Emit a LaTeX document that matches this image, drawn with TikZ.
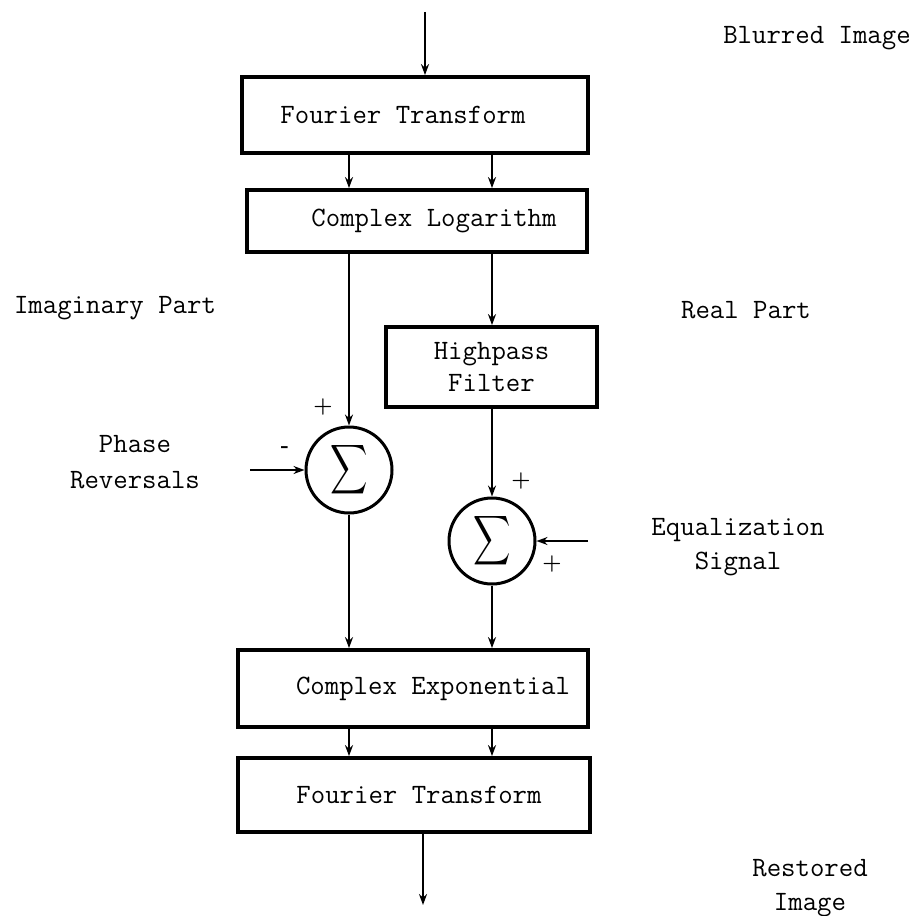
\documentclass[tikz,border=0pt]{standalone}
\usepackage{exscale}
\usepackage{graphicx}
\usetikzlibrary{arrows.meta,shapes.geometric}
\begin{document}
\begin{tikzpicture}[x=0.5pt,y=-0.5pt,
  every node/.style={font=\ttfamily\fontsize{14}{17}\selectfont},
  blockbox/.style={draw,line width=1.9pt,inner sep=0pt,minimum width=#1},
  sumnode/.style={draw,circle,line width=1.5pt,minimum size=43pt,inner sep=0pt,font=\fontsize{17}{20}\selectfont},
  arr/.style={line width=1.3pt,-{Stealth[length=5.5pt,width=4pt]}},
  lbl/.style={align=center},
  sgn/.style={font=\normalfont\bfseries\fontsize{11}{11}\selectfont,inner sep=0pt}]
\useasboundingbox (0,0) rectangle (919,915);
\fill[white] (0,0) rectangle (919,915);
% columns
\coordinate (L) at (349,0);
\coordinate (R) at (492,0);
\coordinate (in) at (425,12);
\coordinate (out) at (423,905);
\coordinate (ph) at (250,470);
\coordinate (eq) at (588,541);
% blocks
\node[blockbox=173pt,minimum height=38pt] (FT1) at (415,115) {Fourier Transform\hspace*{12pt}};
\node[blockbox=170pt,minimum height=31pt] (CL) at (417,221) {\hspace*{17pt}Complex Logarithm};
\node[blockbox=105.5pt,minimum height=40pt,align=center] (HP) at (491.5,367) {Highpass\\[-1pt]Filter};
\node[sumnode] (S1) at (349,470) {\scalebox{0.75}[1]{$\displaystyle\sum$}};
\node[sumnode] (S2) at (492,541) {\scalebox{0.75}[1]{$\displaystyle\sum$}};
\node[blockbox=175pt,minimum height=38.5pt] (CE) at (413,688.5) {\hspace*{20pt}Complex Exponential};
\node[blockbox=176pt,minimum height=37pt] (FT2) at (414,795) {\hspace*{5pt}Fourier Transform};
% connectors
\draw[arr] (in) -- (in |- FT1.north);
\draw[arr] (FT1.south -| L) -- (CL.north -| L);
\draw[arr] (FT1.south -| R) -- (CL.north -| R);
\draw[arr] (CL.south -| L) -- (S1.north);
\draw[arr] (CL.south -| R) -- (HP.north -| R);
\draw[arr] (HP.south -| R) -- (S2.north);
\draw[arr] (ph) -- (S1.west);
\draw[arr] (eq) -- (S2.east);
\draw[arr] (S1.south) -- (CE.north -| L);
\draw[arr] (S2.south) -- (CE.north -| R);
\draw[arr] (CE.south -| L) -- (FT2.north -| L);
\draw[arr] (CE.south -| R) -- (FT2.north -| R);
\draw[arr] (FT2.south -| out) -- (out);
% signs
\node[sgn] (p1) at (323,407) {+};
\node[sgn] (m1) at (285,450) {-};
\node[sgn] (p2) at (521,481) {+};
\node[sgn] (p3) at (552,564) {+};
% labels
\node[lbl] (blur) at (817,38) {Blurred Image};
\node[lbl] (imag) at (115,308) {Imaginary Part};
\node[lbl] (real) at (746,310) {Real Part};
\node[lbl] (phase) at (135,462) {Phase\\[1pt]Reversals};
\node[lbl] (equal) at (738,547) {Equalization\\Signal};
\node[lbl] (rest) at (810,888) {Restored\\Image};
\end{tikzpicture}
\end{document}
